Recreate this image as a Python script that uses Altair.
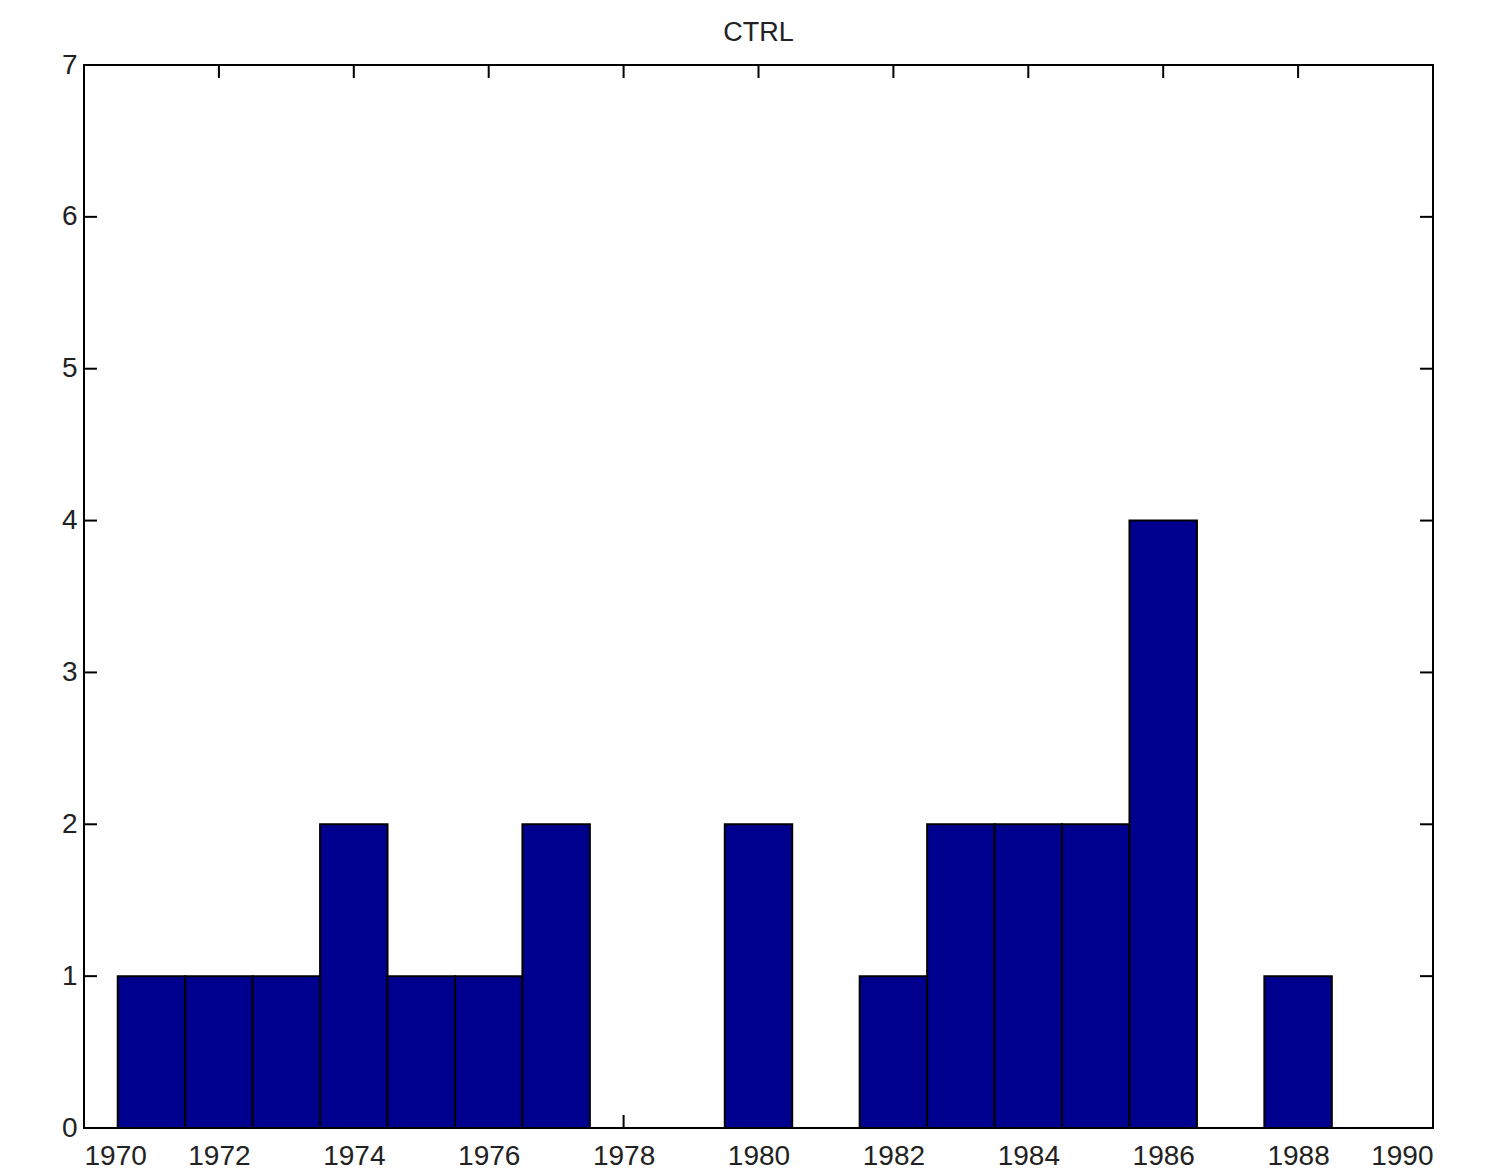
import altair as alt
import pandas as pd

# Data (bin centres and counts)
years = [1971, 1972, 1973, 1974, 1975, 1976, 1977, 1978, 1979, 1980,
         1981, 1982, 1983, 1984, 1985, 1986, 1987, 1988]
counts = [1, 1, 1, 2, 1, 1, 2, 0, 0, 2, 0, 1, 2, 2, 2, 4, 0, 1]
bin_width = 1.0

x_ticks = [1970, 1972, 1974, 1976, 1978, 1980, 1982, 1984, 1986, 1988, 1990]
y_ticks = [0, 1, 2, 3, 4, 5, 6, 7]

W, H = 1349, 1063
TICK = 13
FONT = "Liberation Sans"

df = pd.DataFrame({
    "year": years,
    "count": counts,
})
df["start"] = df["year"] - bin_width / 2
df["end"] = df["year"] + bin_width / 2

xscale = alt.Scale(domain=[1970, 1990], nice=False, zero=False)
yscale = alt.Scale(domain=[0, 7], nice=False)

bars = alt.Chart(df).transform_filter("datum.count > 0").mark_rect(
    color="#00008F", stroke="black", strokeWidth=2
).encode(
    x=alt.X("start:Q", scale=xscale,
            axis=alt.Axis(values=x_ticks, format="d", ticks=False, domain=False,
                          grid=False, labelFont=FONT, labelFontSize=28,
                          labelColor="#222222", labelPadding=14, title=None)),
    x2="end:Q",
    y=alt.Y("count:Q", scale=yscale,
            axis=alt.Axis(values=y_ticks, format="d", ticks=False, domain=False,
                          grid=False, labelFont=FONT, labelFontSize=28,
                          labelColor="#222222", labelPadding=7, title=None)),
    y2=alt.datum(0),
)

xt = pd.DataFrame({"t": x_ticks})
yt = pd.DataFrame({"t": y_ticks})

xt_bottom = alt.Chart(xt).mark_rule(color="black", strokeWidth=2).encode(
    x=alt.X("t:Q", scale=xscale), y=alt.value(H), y2=alt.value(H - TICK))
xt_top = alt.Chart(xt).mark_rule(color="black", strokeWidth=2).encode(
    x=alt.X("t:Q", scale=xscale), y=alt.value(0), y2=alt.value(TICK))
yt_left = alt.Chart(yt).mark_rule(color="black", strokeWidth=2).encode(
    y=alt.Y("t:Q", scale=yscale), x=alt.value(0), x2=alt.value(TICK))
yt_right = alt.Chart(yt).mark_rule(color="black", strokeWidth=2).encode(
    y=alt.Y("t:Q", scale=yscale), x=alt.value(W), x2=alt.value(W - TICK))

chart = alt.layer(xt_bottom, xt_top, yt_left, yt_right, bars).properties(
    width=W, height=H,
    title=alt.TitleParams("CTRL", font=FONT, fontSize=27, fontWeight="normal",
                          color="#222222", anchor="middle", offset=4),
    autosize=alt.AutoSizeParams(type="none"),
    padding={"left": 76, "top": 57, "right": 60, "bottom": 46},
    background="white",
).configure_view(
    stroke="black", strokeWidth=2
)

chart.save("out.html", embed_options={"renderer": "svg", "actions": False})
